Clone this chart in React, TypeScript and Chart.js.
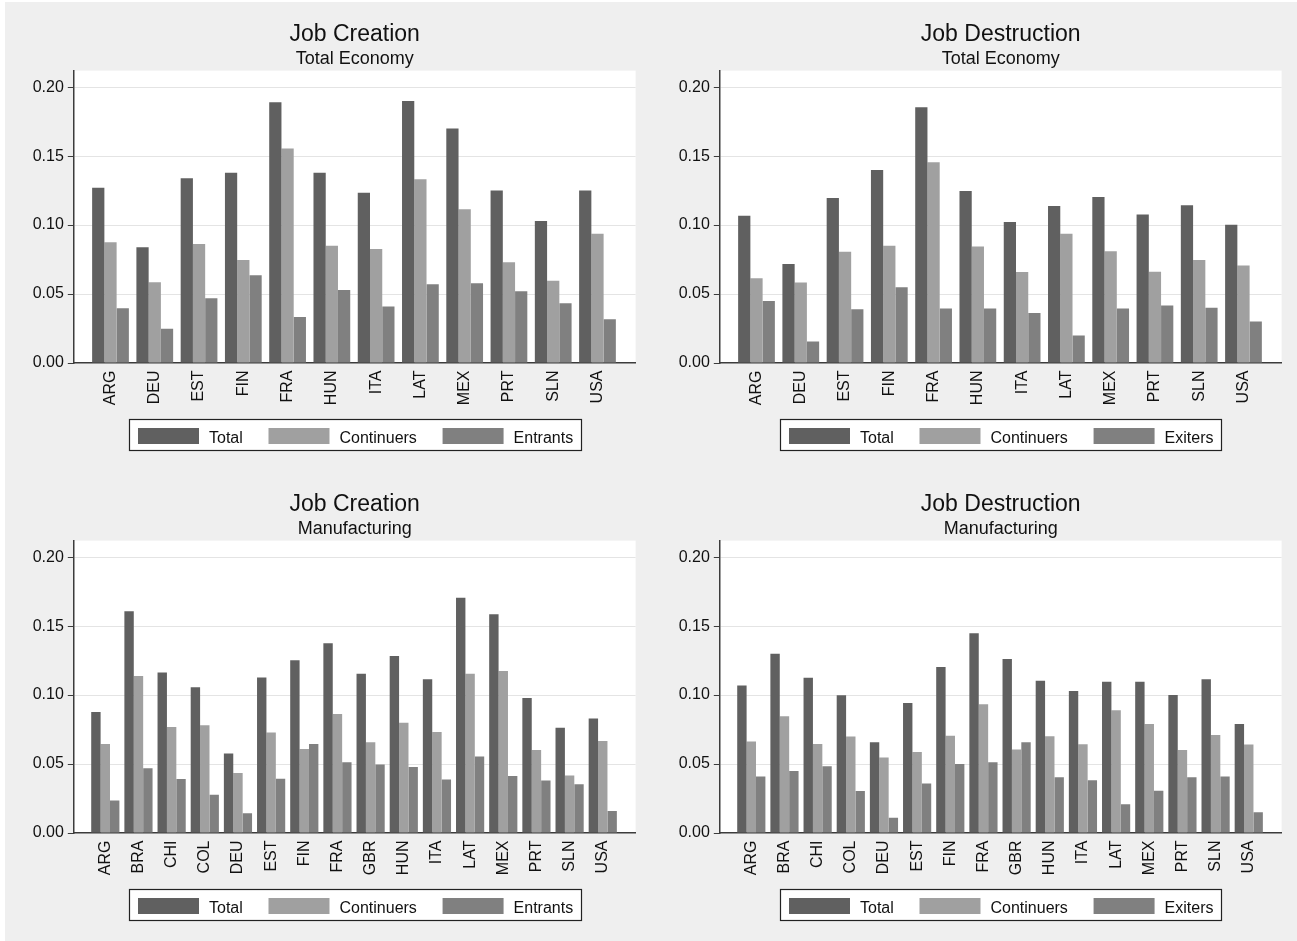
import React, { useEffect, useRef } from 'react';
import { Chart, registerables } from 'chart.js';

Chart.register(...registerables);

const FONT = '"Liberation Sans", Arial, Helvetica, sans-serif';

// Categories
const countriesTotalEconomy = ['ARG', 'DEU', 'EST', 'FIN', 'FRA', 'HUN', 'ITA', 'LAT', 'MEX', 'PRT', 'SLN', 'USA'];
const countriesManufacturing = ['ARG', 'BRA', 'CHI', 'COL', 'DEU', 'EST', 'FIN', 'FRA', 'GBR', 'HUN', 'ITA', 'LAT', 'MEX', 'PRT', 'SLN', 'USA'];

// Y tick labels
const yTickValues = [0, 0.05, 0.1, 0.15, 0.2];

// Job Creation - Total Economy
const jcTotEcoTotal = [0.127, 0.084, 0.134, 0.138, 0.189, 0.138, 0.1235, 0.190, 0.170, 0.125, 0.103, 0.125];
const jcTotEcoContinuers = [0.0875, 0.0586, 0.0862, 0.0746, 0.1555, 0.085, 0.0826, 0.1333, 0.1114, 0.0731, 0.0596, 0.0937];
const jcTotEcoEntrants = [0.0397, 0.0249, 0.047, 0.0637, 0.0334, 0.053, 0.0409, 0.0571, 0.0579, 0.0521, 0.0433, 0.0317];

// Job Destruction - Total Economy
const jdTotEcoTotal = [0.1068, 0.0717, 0.1196, 0.140, 0.1855, 0.1247, 0.1022, 0.1138, 0.1203, 0.1077, 0.1143, 0.1002];
const jdTotEcoContinuers = [0.0615, 0.0584, 0.0806, 0.085, 0.1455, 0.0845, 0.0659, 0.0937, 0.0811, 0.0661, 0.0746, 0.0707];
const jdTotEcoExiters = [0.045, 0.0155, 0.039, 0.055, 0.0395, 0.0395, 0.0363, 0.0199, 0.0395, 0.0416, 0.040, 0.030];

// Job Creation - Manufacturing
const jcManTotal = [0.0878, 0.1608, 0.1163, 0.1057, 0.0576, 0.1127, 0.1253, 0.1376, 0.1154, 0.1284, 0.1115, 0.1705, 0.1586, 0.0979, 0.0764, 0.083];
const jcManContinuers = [0.0646, 0.1139, 0.0769, 0.0781, 0.0435, 0.0728, 0.0609, 0.0863, 0.0658, 0.080, 0.0733, 0.1154, 0.1175, 0.0602, 0.0416, 0.0667];
const jcManEntrants = [0.0235, 0.0469, 0.0392, 0.0278, 0.0143, 0.0394, 0.0646, 0.0513, 0.0496, 0.0479, 0.0387, 0.0554, 0.0414, 0.038, 0.0353, 0.016];

// Job Destruction - Manufacturing
const jdManTotal = [0.1069, 0.1299, 0.1125, 0.0999, 0.0658, 0.0943, 0.1204, 0.1449, 0.1262, 0.1103, 0.103, 0.1096, 0.1096, 0.1001, 0.1115, 0.0791];
const jdManContinuers = [0.0663, 0.0846, 0.0646, 0.0699, 0.0547, 0.0588, 0.0706, 0.0933, 0.0605, 0.0701, 0.0643, 0.089, 0.0791, 0.0602, 0.0711, 0.0641];
const jdManExiters = [0.0409, 0.045, 0.0484, 0.0305, 0.0111, 0.0358, 0.0501, 0.0513, 0.0658, 0.0404, 0.0382, 0.0208, 0.0307, 0.0404, 0.0409, 0.015];

const COLOR_TOTAL = '#606060';
const COLOR_CONT = '#a0a0a0';
const COLOR_THIRD = '#808080';
const BG = '#efefef';
const AXIS = '#3c3c3c';

type PanelProps = {
  title: string;
  subtitle: string;
  categories: string[];
  total: number[];
  continuers: number[];
  third: number[];
  thirdLabel: string;
  xMin: number;
  xMax: number;
  catPct: number;
  height: number;
  topInset: number;
};

function Panel(p: PanelProps) {
  const ref = useRef<HTMLCanvasElement>(null);
  useEffect(() => {
    const cats = p.categories;
    const mk = (arr: number[]) => arr.map((v, i) => ({ x: i, y: v }));

    const bgPlugin = {
      id: 'bgPlugin',
      beforeDraw(chart: any) {
        const { ctx, chartArea, width, height } = chart;
        ctx.save();
        ctx.fillStyle = BG;
        ctx.fillRect(0, p.topInset, width, height - p.topInset);
        ctx.fillStyle = '#ffffff';
        ctx.fillRect(chartArea.left, chartArea.top, chartArea.right - chartArea.left, chartArea.bottom - chartArea.top);
        ctx.restore();
      },
    };

    const titlePlugin = {
      id: 'titlePlugin',
      afterDraw(chart: any) {
        const { ctx, chartArea } = chart;
        const cx = (chartArea.left + chartArea.right) / 2;
        ctx.save();
        ctx.fillStyle = '#111111';
        ctx.textAlign = 'center';
        ctx.textBaseline = 'alphabetic';
        ctx.font = `23px ${FONT}`;
        ctx.fillText(p.title, cx, 40.7);
        ctx.font = `18px ${FONT}`;
        ctx.fillText(p.subtitle, cx, 64);
        ctx.restore();
      },
    };

    const legendPlugin = {
      id: 'legendBoxPlugin',
      afterDraw(chart: any) {
        const { ctx, chartArea } = chart;
        ctx.save();
        ctx.font = `16px ${FONT}`;
        const items = chart.data.datasets.map((d: any) => ({ label: d.label, color: d.backgroundColor }));
        const sw = 61;
        const gapT = 10;
        const gapItem = 25.7;
        const pad = 8.5;
        const widths = items.map((it: any) => sw + gapT + ctx.measureText(it.label).width);
        const total = pad * 2 + widths.reduce((a: number, b: number) => a + b, 0) + gapItem * (items.length - 1);
        const cx = (chartArea.left + chartArea.right) / 2;
        const bx = Math.round(cx - total / 2) + 0.5;
        const by = Math.round(chartArea.bottom + 55.7) + 0.5;
        const bh = 31;
        ctx.fillStyle = '#ffffff';
        ctx.fillRect(bx, by, Math.round(total), bh);
        ctx.strokeStyle = '#222222';
        ctx.lineWidth = 1.2;
        ctx.strokeRect(bx, by, Math.round(total), bh);
        let x = bx + pad;
        items.forEach((it: any, i: number) => {
          ctx.fillStyle = it.color;
          ctx.fillRect(x, by + 8.5, sw, 16);
          ctx.fillStyle = '#111111';
          ctx.textAlign = 'left';
          ctx.textBaseline = 'alphabetic';
          ctx.fillText(it.label, x + sw + gapT, by + 23.5);
          x += widths[i] + gapItem;
        });
        ctx.restore();
      },
    };

    const chart = new Chart(ref.current as HTMLCanvasElement, {
      type: 'bar',
      data: {
        datasets: [
          { label: 'Total', data: mk(p.total) as any, backgroundColor: COLOR_TOTAL, borderWidth: 0 },
          { label: 'Continuers', data: mk(p.continuers) as any, backgroundColor: COLOR_CONT, borderWidth: 0 },
          { label: p.thirdLabel, data: mk(p.third) as any, backgroundColor: COLOR_THIRD, borderWidth: 0 },
        ],
      },
      options: {
        animation: false,
        responsive: false,
        maintainAspectRatio: false,
        devicePixelRatio: 1,
        layout: { padding: { top: 70.6, right: 15.4, left: 0, bottom: 0 } },
        datasets: { bar: { categoryPercentage: p.catPct, barPercentage: 1 } } as any,
        plugins: {
          legend: { display: false },
          title: { display: false },
          tooltip: { enabled: false },
        },
        scales: {
          x: {
            type: 'linear',
            min: p.xMin,
            max: p.xMax,
            offset: false,
            grid: { display: false, drawTicks: false, offset: false },
            border: { display: true, color: AXIS, width: 1.5 },
            afterBuildTicks: (s: any) => {
              s.ticks = cats.map((_, i) => ({ value: i }));
            },
            afterFit: (s: any) => {
              s.height = p.height - 363;
            },
            ticks: {
              autoSkip: false,
              maxRotation: 90,
              minRotation: 90,
              padding: 7.5,
              color: '#111111',
              font: { family: FONT, size: 16 },
              callback: (v: any) => cats[Math.round(Number(v))] ?? '',
            },
          } as any,
          y: {
            type: 'linear',
            min: 0,
            max: 0.212,
            afterBuildTicks: (s: any) => {
              s.ticks = yTickValues.map((v) => ({ value: v }));
            },
            afterFit: (s: any) => {
              s.width = 68.8;
            },
            grid: {
              drawTicks: true,
              tickLength: 6,
              tickColor: AXIS,
              color: (c: any) => (c.tick && c.tick.value === 0 ? 'rgba(0,0,0,0)' : '#e4e4e4'),
              lineWidth: 1,
            },
            border: { display: true, color: AXIS, width: 1.5 },
            ticks: {
              padding: 4,
              color: '#111111',
              font: { family: FONT, size: 16 },
              callback: (v: any) => Number(v).toFixed(2),
            },
          } as any,
        },
      },
      plugins: [bgPlugin, titlePlugin, legendPlugin],
    });
    return () => chart.destroy();
  }, []);
  return (
    <canvas
      ref={ref}
      width={646}
      height={p.height}
      style={{ display: 'block', width: 646, height: p.height }}
    />
  );
}

export default function App() {
  return (
    <div style={{ background: '#ffffff', paddingLeft: 5, width: 1292, height: 941 }}>
      <style>{'body{margin:0;background:#ffffff;}'}</style>
      <div style={{ display: 'grid', gridTemplateColumns: '646px 646px', gridTemplateRows: '470px 471px' }}>
        <Panel
          title="Job Creation"
          subtitle="Total Economy"
          categories={countriesTotalEconomy}
          total={jcTotEcoTotal}
          continuers={jcTotEcoContinuers}
          third={jcTotEcoEntrants}
          thirdLabel="Entrants"
          xMin={-0.829}
          xMax={11.861}
          catPct={0.83}
          height={470}
          topInset={2}
        />
        <Panel
          title="Job Destruction"
          subtitle="Total Economy"
          categories={countriesTotalEconomy}
          total={jdTotEcoTotal}
          continuers={jdTotEcoContinuers}
          third={jdTotEcoExiters}
          thirdLabel="Exiters"
          xMin={-0.829}
          xMax={11.861}
          catPct={0.83}
          height={470}
          topInset={2}
        />
        <Panel
          title="Job Creation"
          subtitle="Manufacturing"
          categories={countriesManufacturing}
          total={jcManTotal}
          continuers={jcManContinuers}
          third={jcManEntrants}
          thirdLabel="Entrants"
          xMin={-0.95}
          xMax={15.99}
          catPct={0.85}
          height={471}
          topInset={0}
        />
        <Panel
          title="Job Destruction"
          subtitle="Manufacturing"
          categories={countriesManufacturing}
          total={jdManTotal}
          continuers={jdManContinuers}
          third={jdManExiters}
          thirdLabel="Exiters"
          xMin={-0.95}
          xMax={15.99}
          catPct={0.85}
          height={471}
          topInset={0}
        />
      </div>
    </div>
  );
}
